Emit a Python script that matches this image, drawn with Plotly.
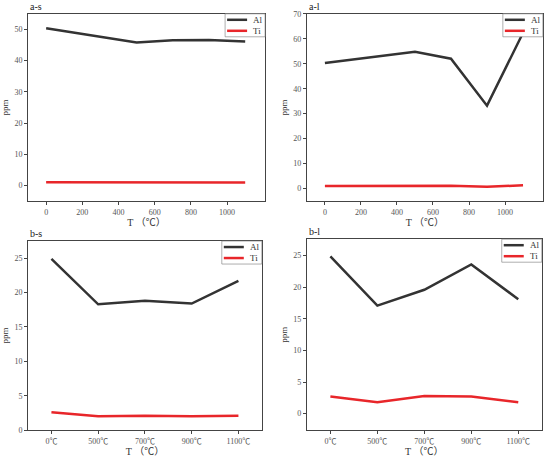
import plotly.graph_objects as go
from plotly.subplots import make_subplots

# temperatures
temp_a = [0, 500, 700, 900, 1100]
temp_b = ['0℃', '500℃', '700℃', '900℃', '1100℃']

# a-s
al_as = [50.4, 45.8, 46.5, 46.6, 46.1]
ti_as = [1.0, 1.0, 0.95, 1.0, 0.95]
# a-l
al_al = [50.3, 54.8, 52.0, 33.2, 62.4]
ti_al = [1.0, 1.1, 1.1, 0.7, 1.3]
# b-s
al_bs = [24.9, 18.3, 18.8, 18.4, 21.7]
ti_bs = [2.6, 2.0, 2.1, 2.0, 2.1]
# b-l
al_bl = [24.9, 17.1, 19.6, 23.6, 18.1]
ti_bl = [2.7, 1.8, 2.8, 2.7, 1.8]

panels = [
    ('a-s', temp_a, al_as, ti_as, 1, 1),
    ('a-l', temp_a, al_al, ti_al, 1, 2),
    ('b-s', temp_b, al_bs, ti_bs, 2, 1),
    ('b-l', temp_b, al_bl, ti_bl, 2, 2),
]

FONT = 'Liberation Serif, Noto Sans CJK SC, serif'
AL_COLOR = '#333333'
TI_COLOR = '#e8262a'
W, H = 550, 460

fig = make_subplots(rows=2, cols=2)

for name, x, al, ti, r, c in panels:
    fig.add_trace(go.Scatter(x=x, y=al, mode='lines', name='Al',
                             line=dict(color=AL_COLOR, width=2.5)), row=r, col=c)
    fig.add_trace(go.Scatter(x=x, y=ti, mode='lines', name='Ti',
                             line=dict(color=TI_COLOR, width=2.5)), row=r, col=c)

# panel placement (paper coords)
xdom = [[0.051, 0.482], [0.558, 0.987], [0.051, 0.476], [0.558, 0.985]]
ydom = [[0.563, 0.970], [0.563, 0.970], [0.065, 0.476], [0.065, 0.480]]
yranges = [[-5, 55], [-5, 70], [0, 27.5], [-2.6, 27.6]]
ytick_step = [10, 10, 5, 5]

axis_common = dict(showline=True, linecolor='#444444', linewidth=1, mirror=True,
                   ticks='outside', ticklen=3, tickcolor='#444444', showgrid=False,
                   zeroline=False, automargin=False,
                   tickfont=dict(family=FONT, size=8, color='#555555'))

for i in range(4):
    sfx = '' if i == 0 else str(i + 1)
    xa = dict(axis_common, domain=xdom[i],
              title=dict(text='T （℃）', font=dict(family=FONT, size=10, color='#333333'), standoff=2))
    if i < 2:
        xa.update(range=[-100, 1210], tickvals=[0, 200, 400, 600, 800, 1000])
    else:
        xa.update(range=[-0.5, 4.5])
    ya = dict(axis_common, domain=ydom[i], range=yranges[i], dtick=ytick_step[i], tick0=0,
              title=dict(text='ppm', font=dict(family=FONT, size=9, color='#333333'), standoff=4))
    fig.layout['xaxis' + sfx].update(xa)
    fig.layout['yaxis' + sfx].update(ya)

    # panel label
    fig.add_annotation(text=panels[i][0], xref='paper', yref='paper',
                       x=xdom[i][0], y=ydom[i][1], xanchor='left', yanchor='bottom',
                       showarrow=False, font=dict(family=FONT, size=10, color='#222222'))

    # small legend box in the top right corner of each panel
    xr, yt = xdom[i][1], ydom[i][1]
    px, py = 1 / W, 1 / H
    fig.add_shape(type='rect', xref='paper', yref='paper',
                  x0=xr - 40 * px, x1=xr, y0=yt - 23 * py, y1=yt,
                  line=dict(color='#777777', width=0.6), fillcolor='white', layer='above')
    for k, (lbl, col) in enumerate([('Al', AL_COLOR), ('Ti', TI_COLOR)]):
        ly = yt - (6 + 11 * k) * py
        fig.add_shape(type='line', xref='paper', yref='paper',
                      x0=xr - 38 * px, x1=xr - 18 * px, y0=ly, y1=ly,
                      line=dict(color=col, width=2.5), layer='above')
        fig.add_annotation(text=lbl, xref='paper', yref='paper',
                           x=xr - 14 * px, y=ly, xanchor='left', yanchor='middle',
                           showarrow=False, font=dict(family=FONT, size=9, color='#333333'))

fig.update_layout(width=W, height=H, margin=dict(l=0, r=0, t=0, b=0),
                  plot_bgcolor='white', paper_bgcolor='white', showlegend=False)

# drop the default page margin so the figure fills the window
fig.write_html('out.html', config={'displayModeBar': False},
               post_script="document.body.style.margin='0';document.body.style.overflow='hidden';")
